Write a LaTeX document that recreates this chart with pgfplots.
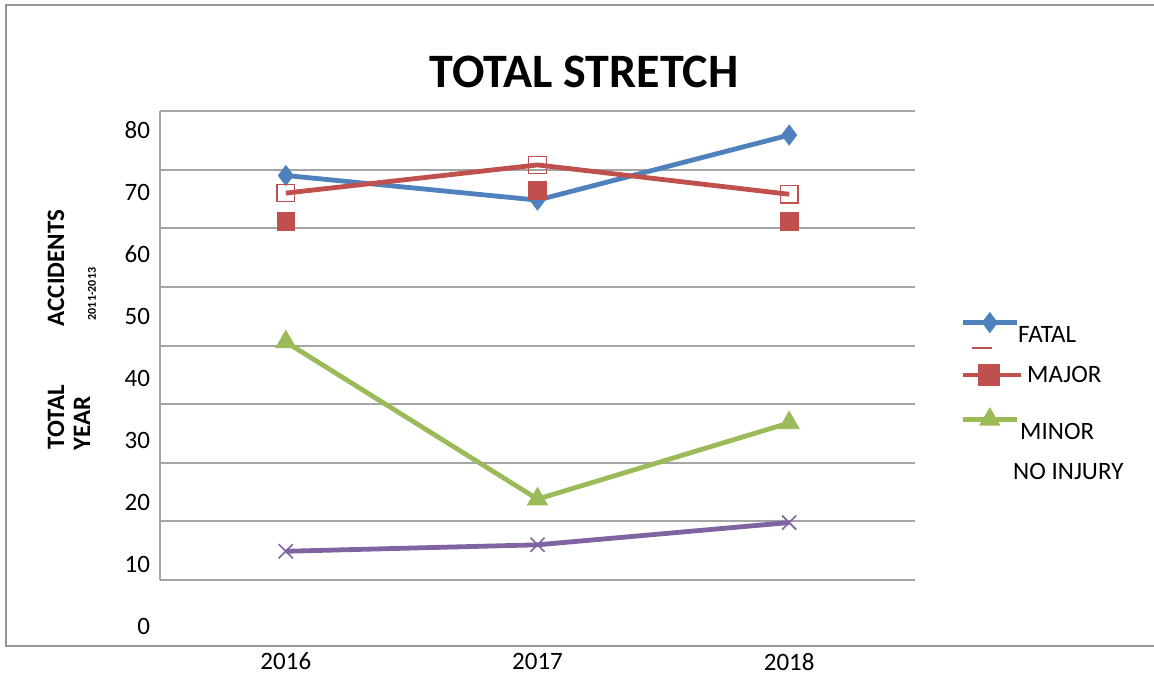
\documentclass[border=0pt]{standalone}
\usepackage{fontspec}
\setmainfont{Carlito}
\usepackage{pgfplots}
\pgfplotsset{compat=1.18}
\definecolor{cblue}{HTML}{4F81BD}
\definecolor{cred}{HTML}{C0504D}
\definecolor{cgreen}{HTML}{9BBB59}
\definecolor{cpurple}{HTML}{8064A2}
\definecolor{gridgray}{RGB}{165,165,165}
\definecolor{framegray}{RGB}{150,150,150}
\pgfplotsset{
  limg/.style={legend image code/.code={%
    \draw[mark repeat=2,mark phase=2,yshift=#1] plot coordinates {(0pt,0pt) (13.5pt,0pt) (27pt,0pt)};}},
}
\begin{document}
\begin{tikzpicture}
\useasboundingbox (0,0) rectangle (577pt,-337.5pt);
\draw[framegray, line width=1pt] (577pt,-2.5pt) -- (3pt,-2.5pt) -- (3pt,-322.75pt) -- (577pt,-322.75pt);
\node[font=\fontsize{24}{28}\selectfont\bfseries] at (292pt,-35.75pt) {TOTAL STRETCH};
\node[rotate=90, font=\fontsize{12.5}{15}\selectfont\bfseries] at (28pt,-134pt) {ACCIDENTS};
\node[rotate=90, font=\fontsize{12.5}{15}\selectfont\bfseries] at (28pt,-208.5pt) {TOTAL};
\node[rotate=90, font=\fontsize{12.5}{15}\selectfont\bfseries] at (41pt,-211.5pt) {YEAR};
\node[rotate=90, font=\fontsize{6}{7}\selectfont\bfseries] at (46pt,-147pt) {2011-2013};
\draw[cred, line width=0.8pt] (486pt,-174pt) -- (496pt,-174pt);
\begin{axis}[
  at={(80pt,-323pt)}, anchor=south west,
  scale only axis, width=377.5pt, height=267.5pt,
  xmin=-0.5, xmax=2.5, ymin=-11.26, ymax=80,
  axis line style={draw=none},
  xtick={0,1,2}, xticklabels={2016,2017,2018},
  ytick={0,10,...,80}, yticklabels={},
  ymajorgrids, grid style={gridgray, line width=1pt},
  major tick length=0pt,
  extra y ticks={76.67,66.10,55.52,44.95,34.37,23.79,13.22,2.64,-7.93},
  extra y tick labels={80,70,60,50,40,30,20,10,0},
  extra y tick style={grid=none},
  tick label style={font=\fontsize{12.5}{15}\selectfont},
  yticklabel style={xshift=-1.5pt},
  clip=false,
  legend cell align=left,
  legend style={draw=none, fill=none, at={(1.0596,0.628)}, anchor=north west,
    inner sep=0pt, row sep=0pt, column sep=-2.5pt,
    font=\fontsize{12.5}{15}\selectfont,
    nodes={inner sep=0pt, text height=15pt, text depth=8.2pt}},
]
\draw[gridgray, line width=1pt] (axis cs:-0.5,0) -- (axis cs:-0.5,80);
\addplot[cblue, line width=2.4pt, mark=diamond*, mark size=5pt,
  mark options={solid, fill=cblue, draw=cblue, line width=0.4pt}, limg=5.5pt]
  coordinates {(0,69.0) (1,64.8) (2,75.9)};
\addlegendentry{\raisebox{-1pt}{FATAL}}
\addplot[cred, only marks, mark=square*, mark size=4.4pt,
  mark options={fill=cred, draw=cred}, forget plot]
  coordinates {(0,61.2) (1,66.5) (2,61.2)};
\addplot[cred, line width=2.4pt, mark=square, mark size=4.4pt,
  mark options={solid, draw=cred, line width=0.6pt, fill=none},
  legend image code/.code={%
    \draw[mark repeat=2,mark phase=2,yshift=2.5pt, mark=square*, mark size=4.2pt,
      mark options={fill=cred, draw=cred}] plot coordinates {(0pt,0pt) (13pt,0pt) (29pt,0pt)};}]
  coordinates {(0,66.0) (1,70.8) (2,65.8)};
\addlegendentry{\hspace*{4.5pt}\raisebox{2pt}{MAJOR}}
\addplot[cgreen, line width=2.4pt, mark=triangle*, mark size=5.8pt,
  mark options={solid, fill=cgreen, draw=cgreen, line width=0.4pt}, limg=3.5pt]
  coordinates {(0,40.6) (1,13.8) (2,26.8)};
\addlegendentry{\hspace*{1pt}\raisebox{-3pt}{MINOR}}
\addplot[cpurple, line width=2.4pt, mark=x, mark size=5pt,
  mark options={solid, line width=0.8pt}, forget plot]
  coordinates {(0,4.9) (1,6.0) (2,9.8)};
\addlegendimage{empty legend}
\addlegendentry{\hspace*{-2.5pt}NO INJURY}
\end{axis}
\end{tikzpicture}
\end{document}
